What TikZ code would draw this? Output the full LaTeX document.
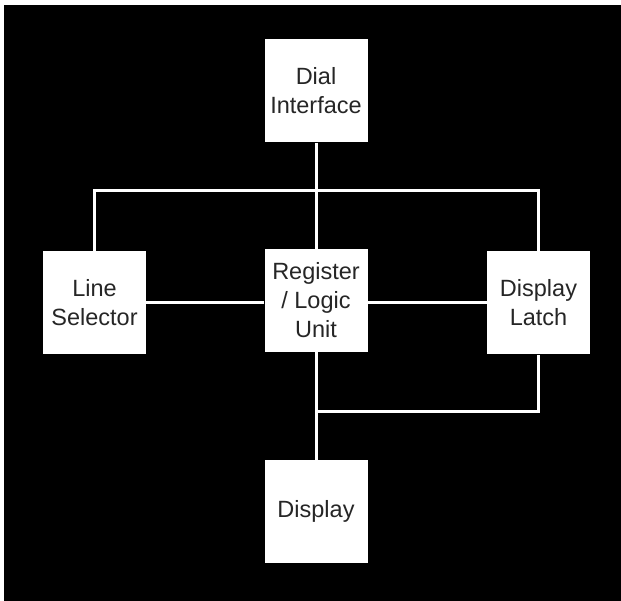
\documentclass[tikz,border=0pt]{standalone}
\usepackage{fontspec}
\setmainfont{Liberation Sans}
\begin{document}
\begin{tikzpicture}[x=1pt,y=-1pt,
  blk/.style={fill=white,draw=none,minimum width=103pt,minimum height=103pt,inner sep=0pt,align=center,font=\fontsize{23.5}{29}\selectfont,text=black!85},
  wire/.style={draw=white,line width=3pt}]
\useasboundingbox (0,0) rectangle (621,601);
\fill[white] (0,0) rectangle (621,601);
\fill[black] (4,5) rectangle (621,601);
\coordinate (tl) at (94,191);
\coordinate (tm) at (316.5,191);
\coordinate (tr) at (538,191);
\coordinate (mid) at (316.5,303);
\coordinate (bm) at (316.5,411);
\coordinate (br) at (538,411);
\node[blk] (dial) at (316,91) {Dial\\Interface};
\node[blk] (line) at (94.5,302.5) {Line\\Selector};
\node[blk] (reg) at (316,300.5) {Register\\/ Logic\\Unit};
\node[blk] (latch) at (538.5,303) {Display\\Latch};
\node[blk] (disp) at (316,511.5) {Display};
\draw[wire] (dial.south -| tm) -- (tm);
\draw[wire] (line.north -| tl) -- (tl) -- (tr) -- (latch.north -| tr);
\draw[wire] (tm) -- (reg.north -| tm);
\draw[wire] (line.east |- mid) -- (reg.west |- mid);
\draw[wire] (reg.east |- mid) -- (latch.west |- mid);
\draw[wire] (reg.south -| bm) -- (disp.north -| bm);
\draw[wire] (bm) -- (br) -- (latch.south -| br);
\end{tikzpicture}
\end{document}
